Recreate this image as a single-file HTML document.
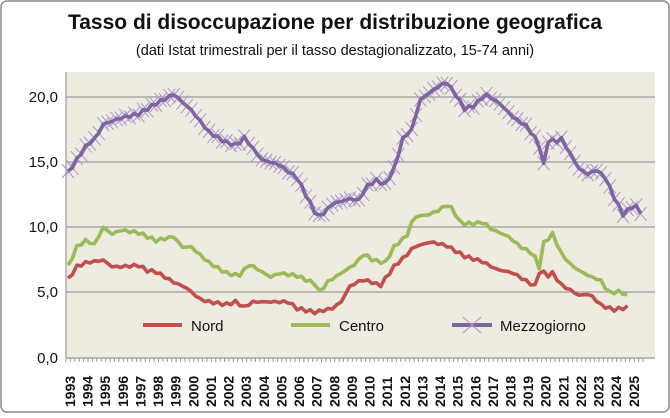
<!DOCTYPE html><html><head><meta charset="utf-8"><style>
body{margin:0;background:#fff;width:670px;height:413px;overflow:hidden;font-family:"Liberation Sans",sans-serif}
</style></head><body>
<svg id="s" width="670" height="413" xmlns="http://www.w3.org/2000/svg" font-family="Liberation Sans, sans-serif">
<rect x="1" y="1" width="668" height="411" rx="6" fill="#fff" stroke="#8a8a8a" stroke-width="1.5"/>
<text x="335" y="29" text-anchor="middle" font-size="21" font-weight="bold" fill="#111">Tasso di disoccupazione per distribuzione geografica</text>
<text x="335" y="55" text-anchor="middle" font-size="14.5" fill="#111">(dati Istat trimestrali  per il tasso destagionalizzato, 15-74 anni)</text>
<rect x="66" y="72" width="589" height="287" fill="#eeece1"/>
<g stroke="#9a9a9a" stroke-width="1.2">
<line x1="66" y1="97" x2="655" y2="97"/><line x1="66" y1="162" x2="655" y2="162"/><line x1="66" y1="227" x2="655" y2="227"/><line x1="66" y1="292" x2="655" y2="292"/><line x1="66" y1="358" x2="655" y2="358"/>
<line x1="66" y1="72" x2="66" y2="358"/>
</g>
<g font-size="15" fill="#111" text-anchor="end">
<text x="58" y="102">20,0</text><text x="58" y="167">15,0</text><text x="58" y="232">10,0</text><text x="58" y="297">5,0</text><text x="58" y="363">0,0</text>
</g>
<g id="ticks" stroke="#9a9a9a" stroke-width="1"></g>
<g id="yrs" font-size="14" font-weight="bold" fill="#111"></g>
<g id="plot"></g>
<g font-size="15" fill="#111">
<line x1="143" y1="325" x2="182" y2="325" stroke="#c0504d" stroke-width="4"/><text x="191" y="331">Nord</text>
<line x1="291" y1="325" x2="330" y2="325" stroke="#9bbb59" stroke-width="4"/><text x="339" y="331">Centro</text>
<line x1="452" y1="325" x2="492" y2="325" stroke="#8064a2" stroke-width="4"/>
<path d="M463 317L481 333M463 333L481 317" stroke="#a898cc" stroke-width="1"/>
<text x="500" y="331">Mezzogiorno</text>
</g>
</svg>
<script>
var X=function(y){return 68+(y-1993)*17.62},Y=function(v){return 358-v*13.05};
var M=[[1993,14.2],[1994,16.2],[1994.6,16.9],[1995,17.9],[1996,18.4],[1997,18.7],[1998,19.5],[1999,20.2],[2000,19.0],[2001,17.3],[2002,16.5],[2002.6,16.3],[2003,16.9],[2004,15.2],[2005,14.8],[2006,13.8],[2007,11.2],[2007.3,10.8],[2008,11.8],[2009,12.2],[2009.5,12.1],[2010,13.2],[2010.5,13.6],[2011,13.3],[2011.5,14.5],[2012,16.8],[2012.5,17.5],[2013,19.8],[2014,20.8],[2014.5,21.1],[2015,20.2],[2015.5,19.1],[2016,19.3],[2016.7,20.2],[2017.5,19.5],[2018.3,18.4],[2019,17.8],[2019.7,16.5],[2020,14.8],[2020.3,17.0],[2020.6,16.5],[2021,16.8],[2022,14.5],[2022.5,14.1],[2023,14.4],[2023.5,13.8],[2024,12.3],[2024.5,11.0],[2025,11.6],[2025.3,11.6],[2025.6,10.9]];
var C=[[1993,7.0],[1993.5,8.5],[1994,9.0],[1994.5,8.7],[1995,10.0],[1995.5,9.5],[1996,9.8],[1997,9.6],[1998,9.0],[1999,9.3],[1999.5,8.5],[2000,8.5],[2001,7.3],[2002,6.5],[2002.7,6.3],[2003.3,7.2],[2004,6.6],[2004.5,6.2],[2005,6.5],[2006,6.3],[2007,5.7],[2007.3,5.0],[2007.7,5.8],[2008.5,6.5],[2009.3,7.2],[2009.8,8.0],[2010.3,7.5],[2011,7.3],[2011.5,8.5],[2012.3,9.5],[2012.6,10.8],[2013.5,11.0],[2014,11.3],[2014.6,11.8],[2015,11.0],[2015.3,10.3],[2016,10.3],[2016.6,10.4],[2017,9.9],[2018,9.3],[2018.7,8.5],[2019.4,8.0],[2019.8,6.8],[2020,8.8],[2020.5,9.5],[2021,8.0],[2021.5,7.2],[2022,6.7],[2022.7,6.2],[2023.2,6.0],[2023.7,5.0],[2024.4,5.1],[2024.8,4.7]];
var N=[[1993,6.0],[1993.5,7.0],[1994,7.3],[1995,7.5],[1995.5,7.0],[1996,7.0],[1997,7.1],[1997.5,6.7],[1998,6.6],[1999,5.8],[1999.7,5.4],[2000.5,4.5],[2001,4.3],[2002,4.1],[2002.5,4.3],[2003,3.9],[2003.5,4.3],[2004.5,4.3],[2005.5,4.3],[2006,3.8],[2007,3.5],[2008,3.8],[2008.5,4.3],[2009,5.5],[2009.7,6.0],[2010.3,5.8],[2010.7,5.5],[2011.5,7.0],[2012.3,8.0],[2012.6,8.5],[2013.6,8.9],[2014.5,8.6],[2015.5,7.8],[2016.5,7.4],[2017.3,6.8],[2018.3,6.5],[2019,5.9],[2019.5,5.5],[2019.8,6.8],[2020.2,6.3],[2020.5,6.5],[2021,5.6],[2022,4.8],[2022.6,4.9],[2023.3,4.0],[2024,3.7],[2024.8,3.9]];
function interp(d,t){for(var i=0;i<d.length-1;i++){if(t<=d[i+1][0]){var a=d[i],b=d[i+1];return a[1]+(b[1]-a[1])*(t-a[0])/(b[0]-a[0]);}}return d[d.length-1][1];}
function pts(d,end){var p=[];for(var t=1993;t<=end+1e-6;t+=0.25){p.push([X(t),Y(interp(d,t)+Math.sin(t*37)*0.12)]);}return p;}
var h='';
function line(p,c){return '<polyline fill="none" stroke="'+c+'" stroke-width="3.6" stroke-linejoin="round" points="'+p.map(function(q){return q[0].toFixed(1)+','+q[1].toFixed(1)}).join(' ')+'"/>';}
var pm=pts(M,2025.6),pc=pts(C,2024.8),pn=pts(N,2024.8);
h+=line(pn,'#c0504d')+line(pc,'#9bbb59');
var xs='';pm.forEach(function(q){xs+='M'+(q[0]-6)+' '+(q[1]-7)+'L'+(q[0]+6)+' '+(q[1]+7)+'M'+(q[0]-6)+' '+(q[1]+7)+'L'+(q[0]+6)+' '+(q[1]-7);});
h+='<path d="'+xs+'" stroke="#a898cc" stroke-width="1" fill="none"/>'+line(pm,'#8064a2');
document.getElementById('plot').innerHTML=h;
var tk='',yr='';for(var t=1993;t<2026;t+=0.25){var x=X(t)-2;tk+='<line x1="'+x+'" y1="358" x2="'+x+'" y2="362"/>';}
for(var y=1993;y<=2025;y++){var x=X(y)+7;yr+='<text transform="translate('+x+',407) rotate(-90)">'+y+'</text>';}
document.getElementById('ticks').innerHTML=tk;document.getElementById('yrs').innerHTML=yr;
</script>
</body></html>
